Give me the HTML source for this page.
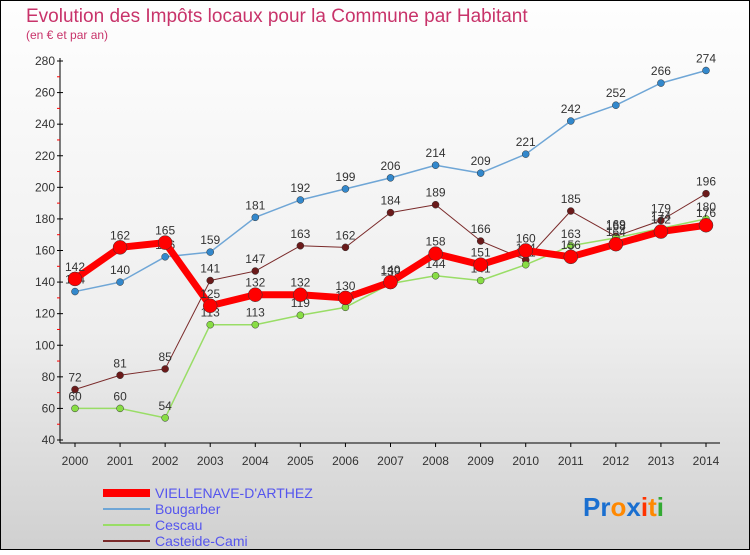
<!DOCTYPE html>
<html><head><meta charset="utf-8"><style>
body{margin:0;width:750px;height:550px;overflow:hidden;font-family:"Liberation Sans",sans-serif}
svg text{font-family:"Liberation Sans",sans-serif}
</style></head><body>
<svg id="c" width="750" height="550" xmlns="http://www.w3.org/2000/svg">
<defs><linearGradient id="bg" x1="0" y1="0" x2="0" y2="1"><stop offset="0" stop-color="#fefefe"/><stop offset="0.6" stop-color="#eeeeee"/><stop offset="1" stop-color="#d0d0d0"/></linearGradient></defs>
<rect x="0.5" y="0.5" width="749" height="549" fill="url(#bg)" stroke="#000"/>
<text x="26" y="22" font-size="19" fill="#c8336a">Evolution des Impôts locaux pour la Commune par Habitant</text>
<text x="26" y="39" font-size="12" fill="#c8336a">(en € et par an)</text>
<g id="axes"></g><g id="series"></g>
<g>
<line x1="103" y1="493" x2="150" y2="493" stroke="#ff0000" stroke-width="8"/>
<text x="155" y="498" font-size="14" fill="#5555ee">VIELLENAVE-D'ARTHEZ</text>
<line x1="103" y1="509" x2="150" y2="509" stroke="#6fa6d6" stroke-width="2"/>
<text x="155" y="514" font-size="14" fill="#5555ee">Bougarber</text>
<line x1="103" y1="525" x2="150" y2="525" stroke="#99dd66" stroke-width="2"/>
<text x="155" y="530" font-size="14" fill="#5555ee">Cescau</text>
<line x1="103" y1="541" x2="150" y2="541" stroke="#7a2a2a" stroke-width="2"/>
<text x="155" y="546" font-size="14" fill="#5555ee">Casteide-Cami</text>
</g>
<g font-size="26" font-weight="bold">
<text x="583" y="516"><tspan fill="#1a6fd0">Pr</tspan><tspan fill="#ff8800">o</tspan><tspan fill="#1a6fd0">x</tspan><tspan fill="#ff3300">i</tspan><tspan fill="#ff8800">t</tspan><tspan fill="#33aa33">i</tspan></text>
</g>
</svg>
<script>
const years=[2000,2001,2002,2003,2004,2005,2006,2007,2008,2009,2010,2011,2012,2013,2014];
const yTicks=[40,60,80,100,120,140,160,180,200,220,240,260,280];
const vielle=[142,162,165,125,132,132,130,140,158,151,160,156,164,172,176];
const bougarber=[134,140,156,159,181,192,199,206,214,209,221,242,252,266,274];
const cescau=[60,60,54,113,113,119,124,139,144,141,151,163,168,174,180];
const casteide=[72,81,85,141,147,163,162,184,189,166,154,185,169,179,196];
const NS="http://www.w3.org/2000/svg";
const X=i=>75+i*(706-75)/(years.length-1);
const Y=v=>440-(v-40)*(440-61)/240;
function mk(t,a,p){const e=document.createElementNS(NS,t);for(const k in a)e.setAttribute(k,a[k]);p.appendChild(e);return e;}
const ax=document.getElementById('axes'),sg=document.getElementById('series');
mk('line',{x1:60,y1:58,x2:60,y2:443,stroke:'#000'},ax);
mk('line',{x1:60,y1:443,x2:720,y2:443,stroke:'#000'},ax);
yTicks.forEach(v=>{const y=Y(v);
mk('line',{x1:57,y1:y,x2:63,y2:y,stroke:'#000'},ax);
if(v<280)mk('line',{x1:57,y1:Y(v+10),x2:60,y2:Y(v+10),stroke:'#f00'},ax);
const t=mk('text',{x:55,y:y+4,'font-size':12,fill:'#333','text-anchor':'end'},ax);t.textContent=v;

});
years.forEach((yr,i)=>{const x=X(i);
mk('line',{x1:x,y1:443,x2:x,y2:447,stroke:'#000'},ax);
const t=mk('text',{x:x,y:465,'font-size':12,fill:'#333','text-anchor':'middle'},ax);t.textContent=yr;

});
function series(d,col,w,r,name,dot){const g=mk('g',{},sg);


mk('polyline',{points:d.map((v,i)=>X(i)+','+Y(v)).join(' '),fill:'none',stroke:col,'stroke-width':w,'stroke-linejoin':'round'},g);
d.forEach((v,i)=>{const c=mk('circle',{cx:X(i),cy:Y(v),r:r,fill:dot,stroke:'#333','stroke-width':0.5},g);


const t=mk('text',{x:X(i),y:Y(v)-8,'font-size':12,fill:'#333','text-anchor':'middle'},g);t.textContent=v;

});}
series(casteide,'#7a2a2a',1,3.5,'series-casteide','#6b1a1a');
series(cescau,'#99dd66',1.5,3.5,'series-cescau','#88dd44');
series(bougarber,'#6fa6d6',1.5,3.5,'series-bougarber','#3388cc');
series(vielle,'#ff0000',7,7,'series-viellenave','#ff0000');
</script>
</body></html>
